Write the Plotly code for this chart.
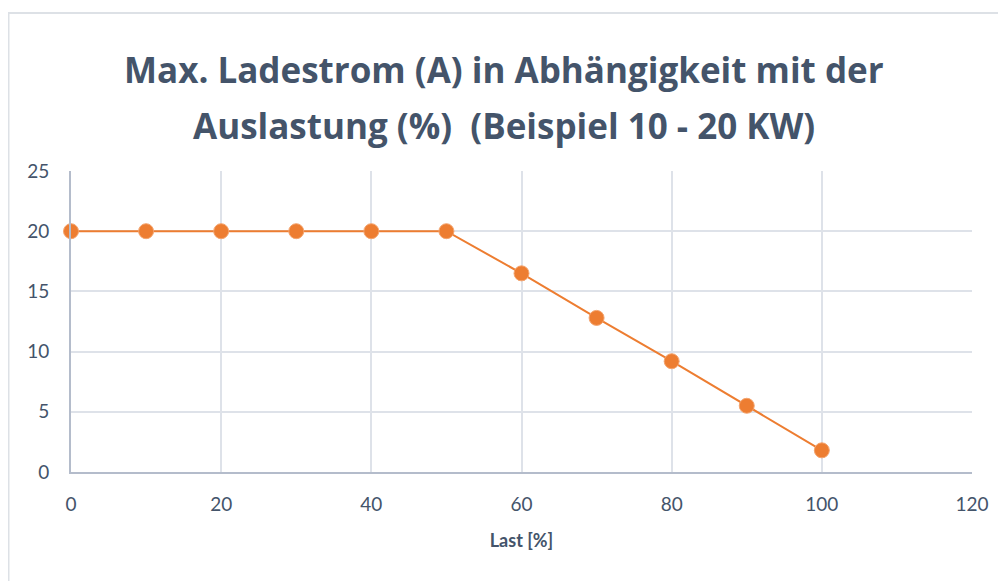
import plotly.graph_objects as go

last_pct = [0, 10, 20, 30, 40, 50, 60, 70, 80, 90, 100]
ladestrom = [20, 20, 20, 20, 20, 20, 16.5, 12.8, 9.2, 5.5, 1.8]
x_ticks = [0, 20, 40, 60, 80, 100, 120]
y_ticks = [0, 5, 10, 15, 20, 25]
title_lines = ["Max. Ladestrom (A) in Abhängigkeit mit der",
               "Auslastung (%)  (Beispiel 10 - 20 KW)"]
x_title = "Last [%]"

text_color = "#44546A"
font_family = "Lato, Open Sans, sans-serif"
title_family = "Open Sans, Noto Sans, sans-serif"

W, H = 998, 573
L, R, T, B = 63, 34, 163, 109
plot_h = H - T - B
plot_w = W - L - R

def py2paper(py):
    return (H - B - py) / plot_h

def px2paper(px):
    return (px - L) / plot_w

fig = go.Figure()
fig.add_trace(go.Scatter(
    x=last_pct, y=ladestrom, mode="lines+markers",
    line=dict(color="#ED7D31", width=2),
    marker=dict(color="#ED7D31", size=15, line=dict(color="#F4A46E", width=1)),
    showlegend=False, cliponaxis=False,
))

fig.update_layout(
    width=W, height=H,
    margin=dict(l=L, r=R, t=T, b=B),
    paper_bgcolor="white", plot_bgcolor="white",
    font=dict(family=font_family, color=text_color),
    xaxis=dict(range=[0, 120], tickvals=x_ticks, showgrid=True, gridcolor="#DEE2E9", gridwidth=1.5,
               showline=True, linecolor="#B4BCCB", linewidth=2, zeroline=False,
               tickfont=dict(size=19, color=text_color), ticks="outside", ticklen=14,
               tickcolor="rgba(0,0,0,0)", tickformat="d",
               title=dict(text="<b>" + x_title + "</b>", font=dict(size=18, color=text_color), standoff=21)),
    yaxis=dict(range=[0, 25], tickvals=y_ticks, showgrid=True, gridcolor="#DEE2E9", gridwidth=1.5,
               showline=True, linecolor="#B4BCCB", linewidth=2, zeroline=False,
               tickfont=dict(size=19, color=text_color), ticks="outside", ticklen=16,
               tickcolor="rgba(0,0,0,0)"),
)

for line_text, py in zip(title_lines, [62, 117]):
    fig.add_annotation(text="<b>" + line_text + "</b>", xref="paper", yref="paper",
                       x=px2paper(W / 2 - 3), y=py2paper(py), xanchor="center", yanchor="middle",
                       showarrow=False, font=dict(size=35, color=text_color, family=title_family))

fig.add_shape(type="rect", xref="paper", yref="paper",
              x0=px2paper(0.5), x1=px2paper(W + 20), y0=py2paper(H + 20), y1=py2paper(5),
              line=dict(color="#DDE1E6", width=2), fillcolor="rgba(0,0,0,0)", layer="below")

fig.write_html("out.html")
